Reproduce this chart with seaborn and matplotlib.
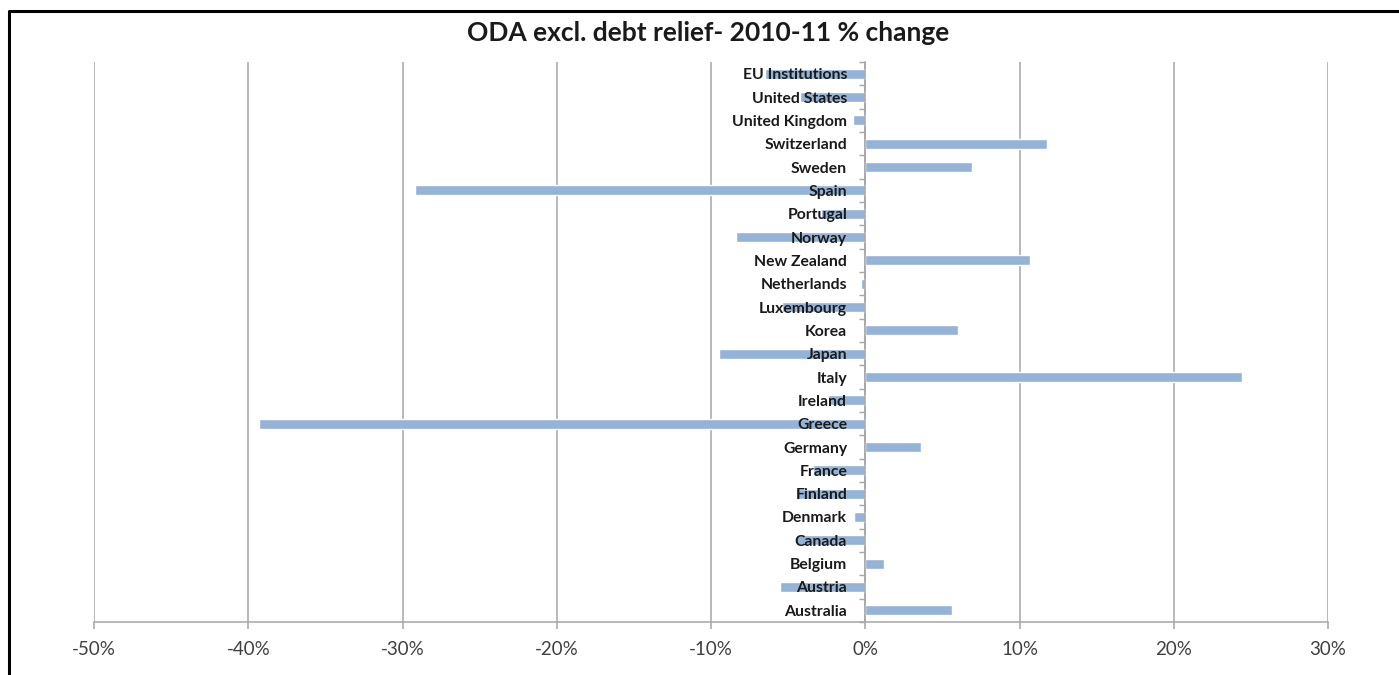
import matplotlib
matplotlib.use("Agg")
import matplotlib.pyplot as plt
import seaborn as sns
import pandas as pd
from matplotlib.ticker import FuncFormatter, FixedLocator
from matplotlib.lines import Line2D

countries = ["EU Institutions", "United States", "United Kingdom", "Switzerland", "Sweden",
             "Spain", "Portugal", "Norway", "New Zealand", "Netherlands", "Luxembourg",
             "Korea", "Japan", "Italy", "Ireland", "Greece", "Germany", "France",
             "Finland", "Denmark", "Canada", "Belgium", "Austria", "Australia"]
change_pct = [-6.5, -4.2, -0.8, 11.8, 6.9, -29.2, -2.9, -8.4, 10.7, -0.3, -5.4,
              6.0, -9.5, 24.4, -2.4, -39.3, 3.6, -3.4, -4.5, -0.7, -4.5, 1.2, -5.5, 5.6]
x_ticks = [-50, -40, -30, -20, -10, 0, 10, 20, 30]
title = "ODA excl. debt relief- 2010-11 % change"

sns.set_theme(style="white")
plt.rcParams["font.family"] = ["Lato", "DejaVu Sans"]

df = pd.DataFrame({"country": countries, "change": change_pct})

fig = plt.figure(figsize=(13.99, 6.75), dpi=100)
ax = fig.add_axes([94 / 1399, 1 - 622 / 675, (1328 - 94) / 1399, (622 - 62) / 675])

sns.barplot(data=df, x="change", y="country", order=countries, orient="h",
            color="#95B3D7", saturation=1, width=0.42, ax=ax, zorder=1)

ax.set_xlim(x_ticks[0], x_ticks[-1])
ax.set_xticks(x_ticks)
ax.xaxis.set_major_formatter(FuncFormatter(lambda v, p: f"{int(round(v))}%"))
ax.set_xlabel("")
ax.set_ylabel("")
ax.set_ylim(len(countries) - 0.5, -0.5)

# vertical gridlines behind the bars
ax.grid(False)
for t in x_ticks:
    ax.axvline(t, color="#A6A6A6", lw=1.1, zorder=0)

for s in ["top", "right"]:
    ax.spines[s].set_visible(False)
ax.spines["bottom"].set_color("#A6A6A6")
ax.spines["bottom"].set_linewidth(1.1)
ax.spines["left"].set_position(("data", 0))
ax.spines["left"].set_color("#A6A6A6")
ax.spines["left"].set_linewidth(1.1)
ax.spines["left"].set_zorder(3)

ax.tick_params(axis="x", which="major", bottom=True, length=5, width=1.1,
               color="#A6A6A6", pad=9, labelsize=13.5, labelcolor="#404040")
ax.tick_params(axis="y", which="major", left=True, length=0, pad=13,
               labelsize=11.3, labelcolor="#1a1a1a")
for lab in ax.get_yticklabels():
    lab.set_fontweight("bold")
ax.yaxis.set_minor_locator(FixedLocator([i + 0.5 for i in range(-1, len(countries))]))
ax.tick_params(axis="y", which="minor", left=True, length=4, width=1.0, color="#A6A6A6")
ax.yaxis.set_zorder(3)

fig.text((94 + 1328) / 2 / 1399 - 0.002, 1 - 33 / 675, title, ha="center", va="center",
         fontsize=19, fontweight="bold", color="#1a1a1a")

# outer frame (cut off at right/bottom as in the reference)
fig.add_artist(Line2D([8.5 / 1399, 8.5 / 1399, 1.01], [-0.01, 1 - 10.5 / 675, 1 - 10.5 / 675],
                      transform=fig.transFigure, color="black", lw=2.2))

fig.savefig("out.png", dpi=100)
